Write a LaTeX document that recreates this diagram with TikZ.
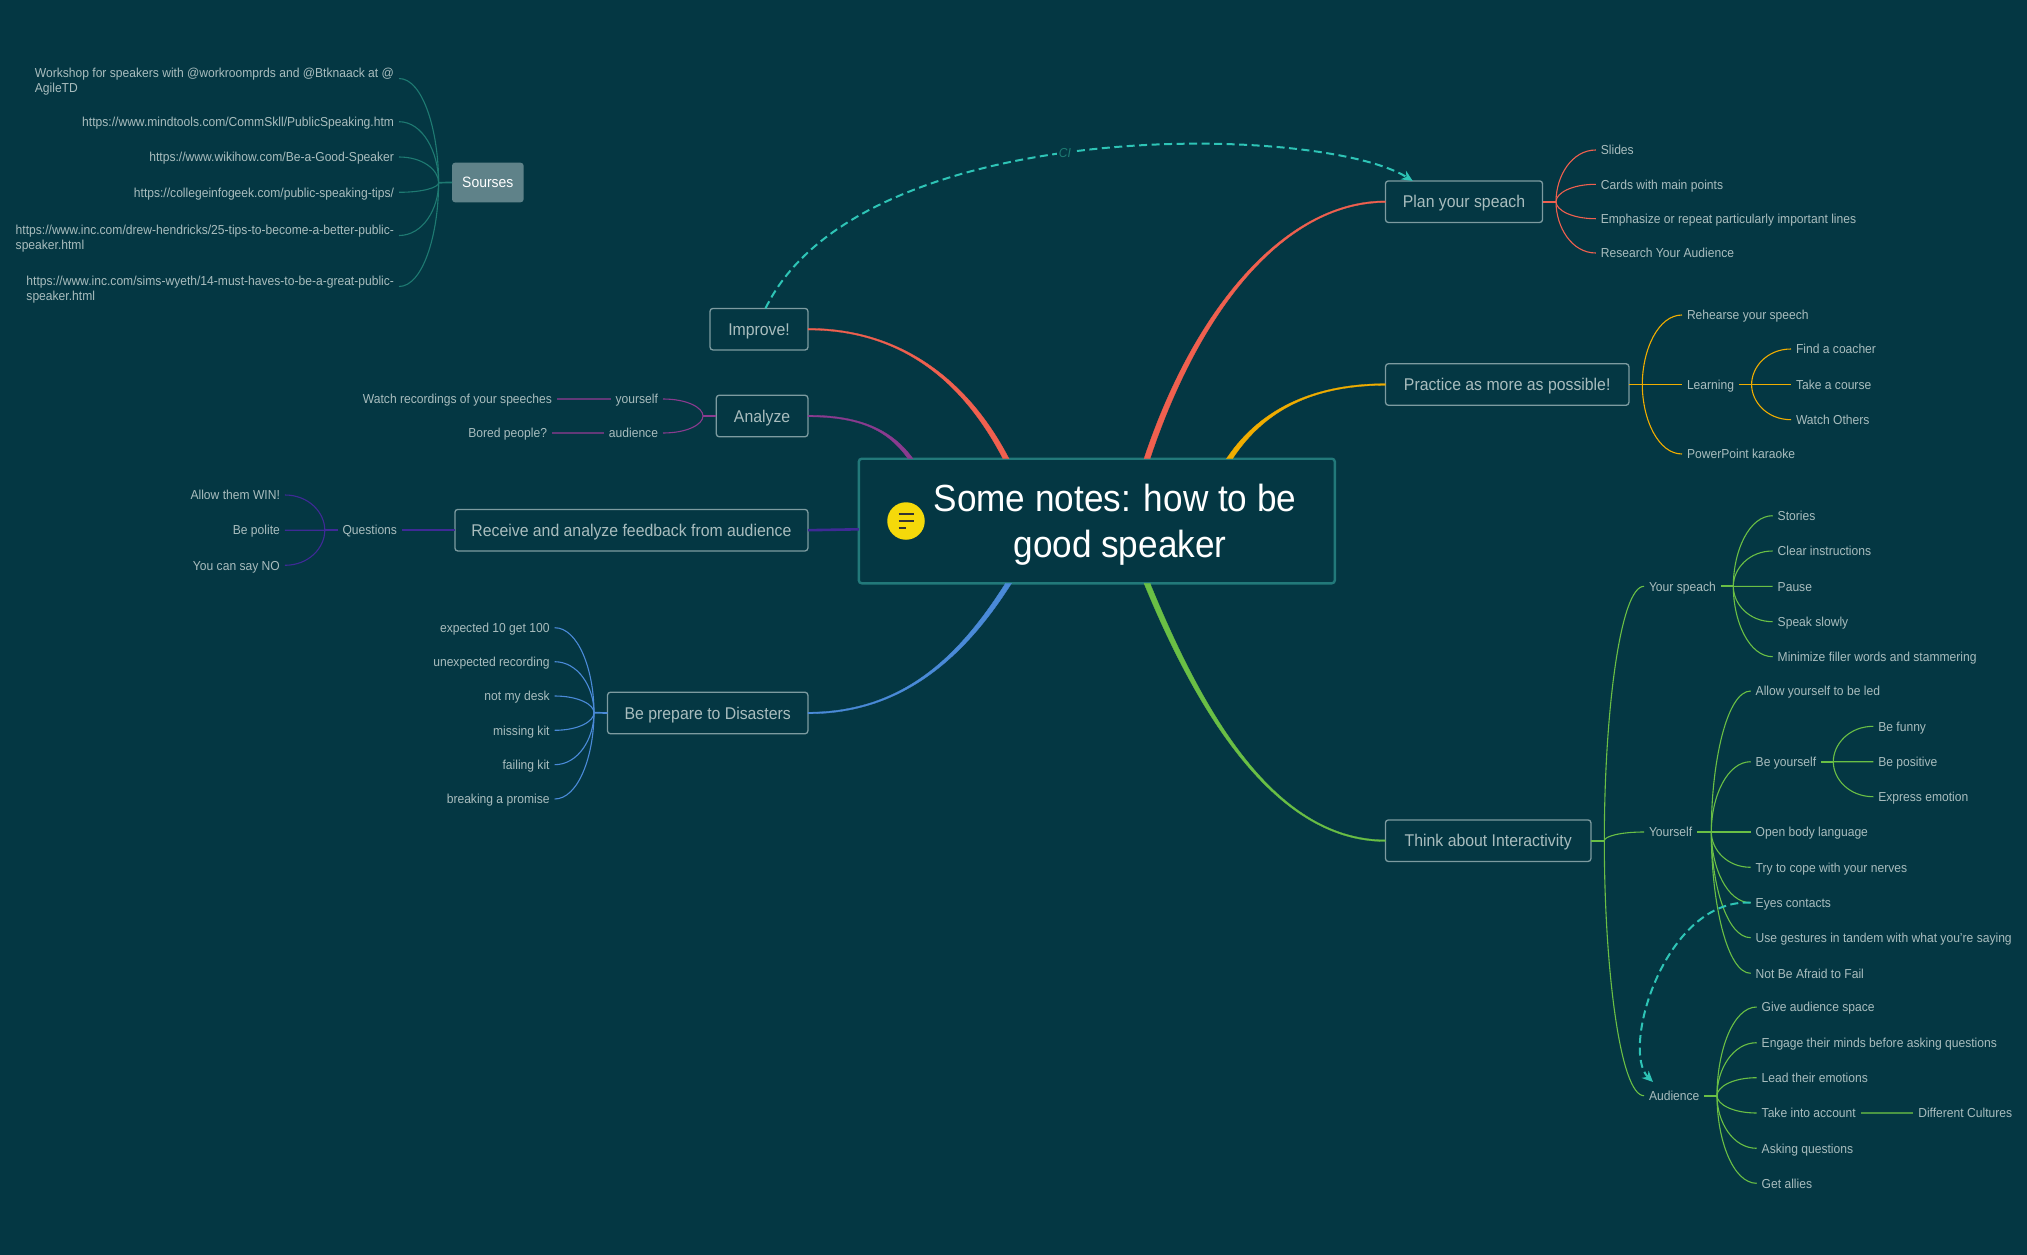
\documentclass[tikz,border=0pt]{standalone}
\usepackage{fontspec}
\setmainfont[FakeStretch=0.93]{Liberation Sans}
\usetikzlibrary{arrows.meta, calc}

\definecolor{bgdark}{HTML}{043743}
\definecolor{boxline}{HTML}{7D9BA0}
\definecolor{textlight}{HTML}{A9BDBE}
\definecolor{rootline}{HTML}{22797A}
\definecolor{dashteal}{HTML}{2EC4B6}
\definecolor{iconyellow}{HTML}{F5D90A}
\definecolor{linkred}{HTML}{F0604F}
\definecolor{linkamber}{HTML}{F0AD00}
\definecolor{linkgreen}{HTML}{6ABF45}
\definecolor{linkblue}{HTML}{4A8AD8}
\definecolor{linkpurple}{HTML}{8A3B8F}
\definecolor{linkindigo}{HTML}{3F2A96}
\definecolor{linkteal}{HTML}{1E7A72}

\tikzset{
    leaf/.style={text=textlight,inner xsep=5,inner ysep=0,outer sep=0,text height=10,text depth=.5,
        font=\fontsize{13}{16}\selectfont},
    note/.style={text=textlight,inner xsep=5,inner ysep=0,outer sep=0,align=left,
        font=\fontsize{13}{15}\selectfont},
    topic/.style={draw=boxline,line width=1.3,rounded corners=3,text=textlight,outer sep=0,
        minimum height=41.6,inner sep=0,text height=12.5,text depth=0,font=\fontsize{17}{20}\selectfont},
    twig/.style={draw=#1,line width=1.1},
    stem/.style={draw=#1,line width=1.7},
    bar/.style={draw=#1,line width=1.7,draw opacity=.7},
    jump/.style={draw=dashteal,line width=2,dash pattern=on 8 off 4.5,-{Stealth[length=11,width=10]}}
}
\newcommand{\branch}[3]{\draw [twig=#1] (#2) .. controls ($(#2)!.5!(#2 |- #3)$) and ($(#3)!.6!(#3 -| #2)$) .. (#3);}
\newcommand{\mainlink}[6]{\draw [#1,fill=#1,line width=.3] ($(#2)+(0,-.8)$) .. controls ($(#3)+(0,-.9)$) and ($(#4)+(#6,0)$) .. ($(#5)+(#6,0)$) -- ($(#5)+({-1*#6},0)$) .. controls ($(#4)+({-1*#6},0)$) and ($(#3)+(0,.9)$) .. ($(#2)+(0,.8)$) -- cycle;}
\newcommand{\notedrop}{\rule{0pt}{15pt}}

\begin{document}
\begin{tikzpicture}[x=1pt,y=-1pt]
    \useasboundingbox (0,0) rectangle (2027,1255);
    \fill [bgdark] (0,0) rectangle (2027,1255);

    \node [draw=rootline,line width=2.4,rounded corners=3,fill=bgdark,outer sep=0,inner sep=0,minimum width=476,minimum height=124.6] (root) at (1096.8,521) {};
    \node [text=white,align=center,inner sep=0,font=\fontsize{37.8}{46}\selectfont] (title) at (1117.5,524.6) {Some notes: how to be\hspace*{5pt}\\\hspace*{5pt}good speaker};
    \node [circle,fill=iconyellow,inner sep=0,minimum size=37.5] (icon) at (906,521) {};
    \draw [black!80,line width=1.6] ($(icon)+(-7.5,-7)$) -- ($(icon)+(7.5,-7)$);
    \draw [black!80,line width=1.6] ($(icon)+(-7.5,0)$) -- ($(icon)+(7.5,0)$);
    \draw [black!80,line width=1.6] ($(icon)+(-7.5,7)$) -- ($(icon)+(0,7)$);

    \node [topic,minimum width=98] (improve) at (759,329.2) {Improve!};
    \node [topic,minimum width=91.6] (analyze) at (762.1,416) {Analyze};
    \node [topic,minimum width=353] (feedback) at (631.4,530.2) {Receive and analyze feedback from audience};
    \node [topic,minimum width=200.4] (disasters) at (707.7,713) {Be prepare to Disasters};
    \node [topic,minimum width=157.1] (plan) at (1464,201.7) {Plan your speach};
    \node [topic,minimum width=243.4] (practice) at (1507.2,384.5) {Practice as more as possible!};
    \node [topic,minimum width=205.5] (think) at (1488.2,840.7) {Think about Interactivity};
    \node [rounded corners=3,fill=boxline!75!bgdark,text=white,outer sep=0,inner sep=0,minimum width=71.6,minimum height=39.6,font=\fontsize{15}{16}\selectfont] (sources) at (487.8,182.5) {Sourses};

    \coordinate (rootA) at (1006,458.7);
    \coordinate (rootB) at (910.5,458.7);
    \coordinate (rootC) at (1147,458.7);
    \coordinate (rootD) at (1229.5,458.7);
    \coordinate (rootE) at (1008.5,583.3);
    \coordinate (rootF) at (1147,583.3);
    \coordinate (rootG) at (858.8,529.3);
    \mainlink{linkred}{improve.east}{890,329}{960,370}{rootA}{3}
    \mainlink{linkpurple}{analyze.east}{860,416}{890,430}{rootB}{2.5}
    \mainlink{linkred}{plan.west}{1290,201.7}{1200,300}{rootC}{-3}
    \mainlink{linkamber}{practice.west}{1320,384.5}{1265,405}{rootD}{-3}
    \mainlink{linkblue}{disasters.east}{900,713}{960,660}{rootE}{-3}
    \mainlink{linkgreen}{think.west}{1270,840.7}{1195,700}{rootF}{3}
    \draw [linkindigo,line width=2.6] (feedback.east) -- (rootG);

    % right side
    \coordinate (hubplan) at (1556,201.7);
    \draw [stem=linkred] (plan.east) -- (hubplan);
    \foreach \y/\txt [count=\i] in {150/Slides,184.3/Cards with main points,218.7/Emphasize or repeat particularly important lines,253/Research Your Audience}{
        \node [leaf,anchor=west] (plan\i) at (1595.8,\y) {\txt};
        \branch{linkred}{hubplan}{plan\i.west}
    }

    \coordinate (hubpractice) at (1642.3,384.5);
    \draw [stem=linkamber] (practice.east) -- (hubpractice);
    \foreach \y/\txt/\nm in {315/Rehearse your speech/rehearse,384.5/Learning/learning,454/PowerPoint karaoke/karaoke}{
        \node [leaf,anchor=west] (\nm) at (1682,\y) {\txt};
        \branch{linkamber}{hubpractice}{\nm.west}
    }
    \coordinate (hublearning) at (1751.6,384.5);
    \draw [stem=linkamber] (learning.east) -- (hublearning);
    \foreach \y/\txt [count=\i] in {349/Find a coacher,384.5/Take a course,419.7/Watch Others}{
        \node [leaf,anchor=west] (learning\i) at (1791,\y) {\txt};
        \branch{linkamber}{hublearning}{learning\i.west}
    }

    \coordinate (hubthink) at (1604.3,840.7);
    \draw [stem=linkgreen] (think.east) -- (hubthink);
    \foreach \y/\txt/\nm in {586.3/Your speach/yourspeach,832/Yourself/yourself,1095.7/Audience/audience}{
        \node [leaf,anchor=west] (\nm) at (1644,\y) {\txt};
        \branch{linkgreen}{hubthink}{\nm.west}
    }

    \coordinate (hubspeach) at (1733.3,586.3);
    \draw [stem=linkgreen] (yourspeach.east) -- (hubspeach);
    \foreach \y/\txt [count=\i] in {515.7/Stories,551/Clear instructions,586.3/Pause,621.7/Speak slowly,656.7/Minimize filler words and stammering}{
        \node [leaf,anchor=west] (speach\i) at (1772.7,\y) {\txt};
        \branch{linkgreen}{hubspeach}{speach\i.west}
    }

    \coordinate (hubyourself) at (1711.3,832);
    \draw [stem=linkgreen] (yourself.east) -- (hubyourself);
    \foreach \y/\txt/\nm in {691/Allow yourself to be led/allow,761.7/Be yourself/beyourself,832/Open body language/openbody,867.3/Try to cope with your nerves/nerves,902.7/Eyes contacts/eyes,937.7/Use gestures in tandem with what you're saying/gestures,973.3/Not Be Afraid to Fail/notafraid}{
        \node [leaf,anchor=west] (\nm) at (1750.7,\y) {\txt};
        \branch{linkgreen}{hubyourself}{\nm.west}
    }
    \coordinate (hubbe) at (1833.3,761.7);
    \draw [stem=linkgreen] (beyourself.east) -- (hubbe);
    \foreach \y/\txt [count=\i] in {726.3/Be funny,761.7/Be positive,796.7/Express emotion}{
        \node [leaf,anchor=west] (be\i) at (1873.3,\y) {\txt};
        \branch{linkgreen}{hubbe}{be\i.west}
    }

    \coordinate (hubaudience) at (1717,1095.7);
    \draw [stem=linkgreen] (audience.east) -- (hubaudience);
    \foreach \y/\txt/\nm in {1007/Give audience space/space,1042.7/Engage their minds before asking questions/engage,1077.7/Lead their emotions/emotions,1113/Take into account/account,1148.3/Asking questions/asking,1183.3/Get allies/allies}{
        \node [leaf,anchor=west] (\nm) at (1756.7,\y) {\txt};
        \branch{linkgreen}{hubaudience}{\nm.west}
    }
    \node [leaf,anchor=west] (cultures) at (1913.3,1113) {Different Cultures};
    \draw [bar=linkgreen] (account.east) -- (cultures.west);

    % left side
    \coordinate (hubanalyze) at (703,416);
    \draw [stem=linkpurple] (analyze.west) -- (hubanalyze);
    \node [leaf,anchor=east] (yourselfb) at (663,399) {yourself};
    \node [leaf,anchor=east] (audienceb) at (663,433) {audience};
    \branch{linkpurple}{hubanalyze}{yourselfb.east}
    \branch{linkpurple}{hubanalyze}{audienceb.east}
    \node [leaf,anchor=east] (recordings) at (557,399) {Watch recordings of your speeches};
    \node [leaf,anchor=east] (bored) at (552,433) {Bored people?};
    \draw [bar=linkpurple] (yourselfb.west) -- (recordings.east);
    \draw [bar=linkpurple] (audienceb.west) -- (bored.east);

    \node [leaf,anchor=east] (questions) at (402,530.2) {Questions};
    \draw [stem=linkindigo] (feedback.west) -- (questions.east);
    \coordinate (hubquestions) at (324.8,530.2);
    \draw [stem=linkindigo] (questions.west) -- (hubquestions);
    \foreach \y/\txt [count=\i] in {495/Allow them WIN!,530.2/Be polite,565.3/You can say NO}{
        \node [leaf,anchor=east] (questions\i) at (284.9,\y) {\txt};
        \branch{linkindigo}{hubquestions}{questions\i.east}
    }

    \coordinate (hubdisasters) at (594,712.7);
    \draw [stem=linkblue] (disasters.west) -- (hubdisasters);
    \foreach \y/\txt [count=\i] in {627.7/expected 10 get 100,661.7/unexpected recording,696/not my desk,730.3/missing kit,764.7/failing kit,799/breaking a promise}{
        \node [leaf,anchor=east] (disasters\i) at (554.6,\y) {\txt};
        \branch{linkblue}{hubdisasters}{disasters\i.east}
    }

    \coordinate (hubsources) at (438.6,182.7);
    \draw [stem=linkteal] (sources.west) -- (hubsources);
    \node [note,anchor=east] (sources1) at (399,78.5) {\notedrop Workshop for speakers with @workroomprds and @Btknaack at @\\AgileTD};
    \foreach \y/\txt/\nm in {121.7/{https://www.mindtools.com/CommSkll/PublicSpeaking.htm}/sources2,157/{https://www.wikihow.com/Be-a-Good-Speaker}/sources3,192.3/{https://collegeinfogeek.com/public-speaking-tips/}/sources4}{
        \node [leaf,anchor=east] (\nm) at (399,\y) {\txt};
    }
    \node [note,anchor=east] (sources5) at (399,235.5) {\notedrop https://www.inc.com/drew-hendricks/25-tips-to-become-a-better-public-\\speaker.html};
    \node [note,anchor=east] (sources6) at (399,286.5) {\notedrop https://www.inc.com/sims-wyeth/14-must-haves-to-be-a-great-public-\\speaker.html};
    \foreach \i in {1,...,6}{
        \branch{linkteal}{hubsources}{sources\i.east}
    }

    % dashed jumps
    \coordinate (tipaudience) at (1653,1082);
    \draw [jump] ([xshift=6.5]improve.north) .. controls (860,114) and (1320,123) .. node [pos=.47,fill=bgdark,text=linkteal,inner sep=2,font=\fontsize{13}{13}\selectfont\itshape] (citag) {CI} ([xshift=-51.3]plan.north);
    \draw [jump] (eyes.west) .. controls (1665,898) and (1620,1050) .. (tipaudience);
\end{tikzpicture}
\end{document}
